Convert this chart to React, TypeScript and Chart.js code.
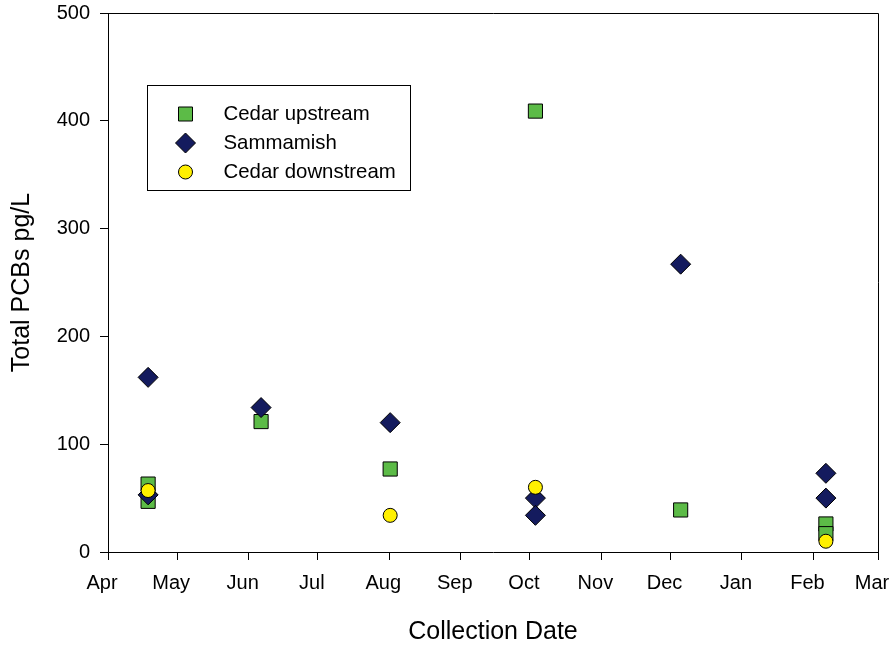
import React, { useEffect, useRef } from "react";
import { Chart, registerables } from "chart.js";

Chart.register(...registerables);

// Month tick labels (Apr .. Mar) and their dates
const monthLabels = ["Apr", "May", "Jun", "Jul", "Aug", "Sep", "Oct", "Nov", "Dec", "Jan", "Feb", "Mar"];
const monthDates = [
  "2005-04-01", "2005-05-01", "2005-06-01", "2005-07-01", "2005-08-01", "2005-09-01",
  "2005-10-01", "2005-11-01", "2005-12-01", "2006-01-01", "2006-02-01", "2006-03-01",
];

// Cedar upstream
const upstreamDates = ["2005-04-18", "2005-04-18", "2005-06-06", "2005-08-01", "2005-10-03", "2005-12-05", "2006-02-06", "2006-02-06"];
const upstreamValues = [63, 47, 121, 77, 409, 39, 26, 17];

// Sammamish
const sammamishDates = ["2005-04-18", "2005-04-18", "2005-06-06", "2005-08-01", "2005-10-03", "2005-10-03", "2005-12-05", "2006-02-06", "2006-02-06"];
const sammamishValues = [162, 53, 134, 120, 50, 34, 267, 73, 50];

// Cedar downstream
const downstreamDates = ["2005-04-18", "2005-08-01", "2005-10-03", "2006-02-06"];
const downstreamValues = [57, 34, 60, 10];

const yTicks = [0, 100, 200, 300, 400, 500];

const ORIGIN = Date.UTC(2005, 3, 1);
const dayOf = (s: string) => {
  const [y, m, d] = s.split("-").map(Number);
  return (Date.UTC(y, m - 1, d) - ORIGIN) / 86400000 + 0.4;
};
const monthDays = monthDates.map((s) => dayOf(s) - 0.4);
const toPoints = (dates: string[], vals: number[]) => dates.map((d, i) => ({ x: dayOf(d), y: vals[i] }));

const FONT = "'Liberation Sans', Arial, Helvetica, sans-serif";
const GREEN = "#5CBB47";
const NAVY = "#141B5E";
const YELLOW = "#FFF000";

const legendItems = [
  { label: "Cedar upstream", style: "rect", color: GREEN },
  { label: "Sammamish", style: "diamond", color: NAVY },
  { label: "Cedar downstream", style: "circle", color: YELLOW },
];

const framePlugin = {
  id: "frameLegend",
  afterDraw(chart: any) {
    const { ctx, chartArea } = chart;
    const { left, right, top, bottom } = chartArea;
    ctx.save();
    // top and right frame lines
    ctx.strokeStyle = "#000";
    ctx.lineWidth = 1;
    ctx.beginPath();
    ctx.moveTo(left, top + 0.5);
    ctx.lineTo(right + 0.5, top + 0.5);
    ctx.lineTo(right + 0.5, bottom);
    ctx.stroke();

    // legend box
    const bx = left + 39.5;
    const by = top + 72.5;
    const bw = 263;
    const bh = 105;
    ctx.fillStyle = "#fff";
    ctx.fillRect(bx, by, bw, bh);
    ctx.strokeRect(bx, by, bw, bh);
    ctx.font = `20.4px ${FONT}`;
    ctx.textBaseline = "middle";
    ctx.textAlign = "left";
    legendItems.forEach((it, i) => {
      const cx = bx + 38;
      const cy = by + 28.5 + i * 29;
      ctx.fillStyle = it.color;
      ctx.strokeStyle = "#000";
      ctx.lineWidth = 1;
      ctx.beginPath();
      if (it.style === "rect") {
        ctx.rect(cx - 7, cy - 7, 14, 14);
      } else if (it.style === "diamond") {
        ctx.moveTo(cx, cy - 10);
        ctx.lineTo(cx + 10, cy);
        ctx.lineTo(cx, cy + 10);
        ctx.lineTo(cx - 10, cy);
        ctx.closePath();
      } else {
        ctx.arc(cx, cy, 7, 0, Math.PI * 2);
      }
      ctx.fill();
      ctx.stroke();
      ctx.fillStyle = "#000";
      ctx.fillText(it.label, bx + 76, cy);
    });
    ctx.restore();
  },
};

export default function App() {
  const ref = useRef<HTMLCanvasElement>(null);
  useEffect(() => {
    if (!ref.current) return;
    const chart = new Chart(ref.current, {
      type: "scatter",
      data: {
        datasets: [
          {
            label: "Cedar upstream",
            data: toPoints(upstreamDates, upstreamValues),
            pointStyle: "rect",
            pointRadius: 10,
            pointHoverRadius: 10,
            backgroundColor: GREEN,
            borderColor: "#000",
            borderWidth: 1,
            order: 3,
          },
          {
            label: "Sammamish",
            data: toPoints(sammamishDates, sammamishValues),
            pointStyle: "rectRot",
            pointRadius: 10,
            pointHoverRadius: 10,
            backgroundColor: NAVY,
            borderColor: "#000",
            borderWidth: 1,
            order: 2,
          },
          {
            label: "Cedar downstream",
            data: toPoints(downstreamDates, downstreamValues),
            pointStyle: "circle",
            pointRadius: 7,
            pointHoverRadius: 7,
            backgroundColor: YELLOW,
            borderColor: "#000",
            borderWidth: 1,
            order: 1,
          },
        ],
      },
      options: {
        responsive: false,
        animation: false,
        layout: { padding: { left: 0, right: 15, top: 13, bottom: 0 } },
        plugins: { legend: { display: false }, tooltip: { enabled: false } },
        scales: {
          x: {
            type: "linear",
            min: monthDays[0],
            max: monthDays[monthDays.length - 1],
            afterBuildTicks: (scale: any) => {
              scale.ticks = monthDays.map((v) => ({ value: v }));
            },
            afterFit: (scale: any) => {
              scale.height = 96;
              scale.paddingLeft = 0;
              scale.paddingRight = 0;
            },
            ticks: {
              autoSkip: false,
              maxRotation: 0,
              padding: 11,
              labelOffset: -6,
              color: "#000",
              font: { family: FONT, size: 20 },
              callback: (v: any) => {
                const i = monthDays.indexOf(Number(v));
                return i >= 0 ? monthLabels[i] : "";
              },
            },
            grid: { drawOnChartArea: false, drawTicks: true, tickLength: 8, color: "#000" },
            border: { display: true, color: "#000", width: 1 },
            title: {
              display: true,
              text: "Collection Date",
              color: "#000",
              font: { family: FONT, size: 25 },
              padding: { top: 0, bottom: 1 },
            },
          },
          y: {
            type: "linear",
            min: 0,
            max: 500,
            afterBuildTicks: (scale: any) => {
              scale.ticks = yTicks.map((v) => ({ value: v }));
            },
            afterFit: (scale: any) => {
              scale.width = 108;
              scale.paddingTop = 0;
              scale.paddingBottom = 0;
            },
            ticks: {
              padding: 10,
              color: "#000",
              font: { family: FONT, size: 20 },
            },
            grid: { drawOnChartArea: false, drawTicks: true, tickLength: 8, color: "#000" },
            border: { display: true, color: "#000", width: 1 },
            title: {
              display: true,
              text: "Total PCBs pg/L",
              color: "#000",
              font: { family: FONT, size: 25 },
              padding: { top: 7, bottom: 0 },
            },
          },
        },
      },
      plugins: [framePlugin],
    } as any);
    return () => chart.destroy();
  }, []);
  return (
    <canvas
      ref={ref}
      width={893}
      height={648}
      style={{ position: "absolute", left: 0, top: 0, width: 893, height: 648, display: "block" }}
    />
  );
}
